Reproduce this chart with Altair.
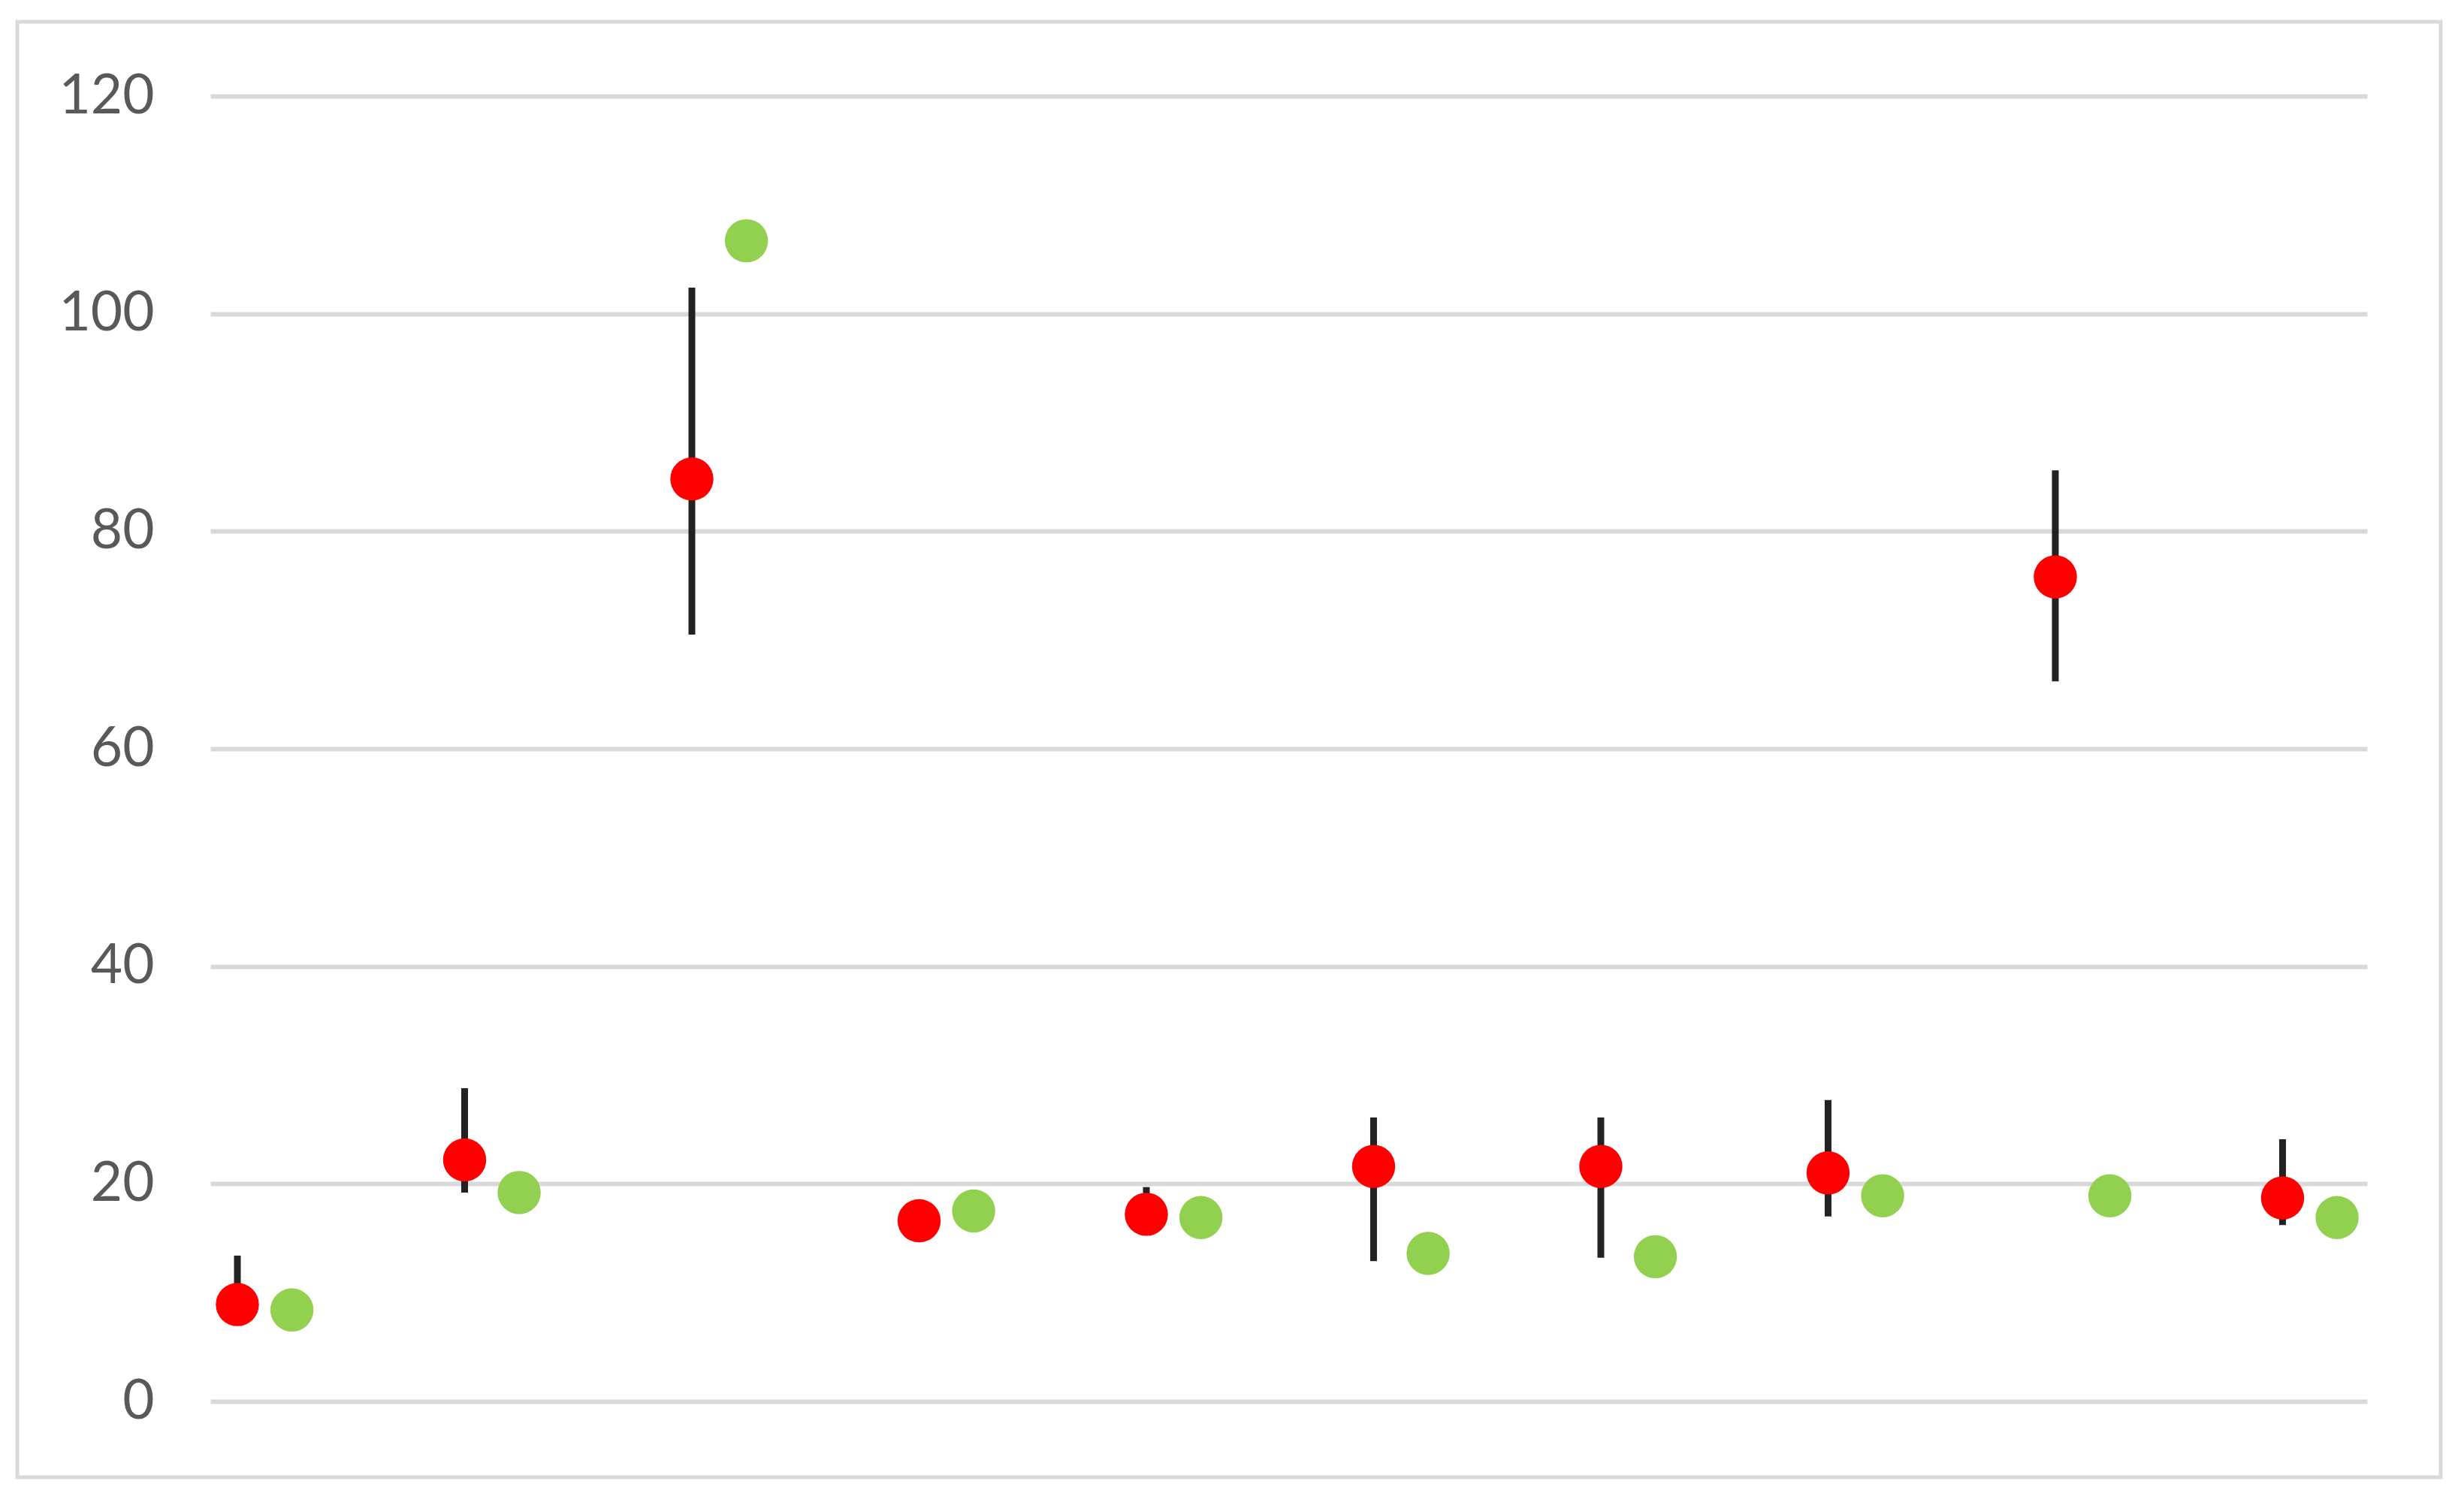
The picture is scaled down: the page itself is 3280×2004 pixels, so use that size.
import altair as alt
import pandas as pd

# category positions (1..10), green series drawn slightly to the right
positions = [1, 2, 3, 4, 5, 6, 7, 8, 9, 10]
green_offset = 0.24

red_values = [8.9, 22.2, 84.8, 16.6, 17.2, 21.6, 21.6, 21.0, 75.8, 18.7]
red_high = [13.4, 28.8, 102.4, 17.4, 19.7, 26.1, 26.1, 27.7, 85.6, 24.1]
red_low = [7.6, 19.2, 70.5, 15.9, 16.0, 12.9, 13.2, 17.0, 66.2, 16.2]
green_values = [8.4, 19.2, 106.7, 17.5, 16.9, 13.6, 13.3, 18.9, 18.9, 16.9]

y_ticks = [0, 20, 40, 60, 80, 100, 120]

red_df = pd.DataFrame({"pos": positions, "value": red_values,
                       "low": red_low, "high": red_high})
green_df = pd.DataFrame({"pos": [p + green_offset for p in positions],
                         "value": green_values})

x_scale = alt.Scale(domain=[0.881, 10.372], nice=False, zero=False)
y_scale = alt.Scale(domain=[0, 120], nice=False)

x_enc = alt.X("pos:Q", scale=x_scale, axis=None)

# outer chart frame (decoration)
frame = alt.Chart(pd.DataFrame({"k": [0]})).mark_rect(
    fill="transparent", stroke="#d9d9d9", strokeWidth=5
).encode(
    x=alt.value(-257), x2=alt.value(2969),
    y=alt.value(-99), y2=alt.value(1839),
)

errors = alt.Chart(red_df).mark_rule(color="#222222", strokeWidth=9).encode(
    x=x_enc,
    y=alt.Y("low:Q", scale=y_scale,
            axis=alt.Axis(values=y_ticks, title=None, domain=False, ticks=False,
                          tickSize=0, labelPadding=75, labelFontSize=73,
                          labelFont="Lato", labelColor="#595959",
                          grid=True, gridColor="#d9d9d9", gridWidth=6)),
    y2="high:Q",
)

red_pts = alt.Chart(red_df).mark_circle(color="#ff0000", opacity=1, size=3300).encode(
    x=x_enc,
    y=alt.Y("value:Q", scale=y_scale),
)

green_pts = alt.Chart(green_df).mark_circle(color="#92d050", opacity=1, size=3300).encode(
    x=x_enc,
    y=alt.Y("value:Q", scale=y_scale),
)

chart = alt.layer(frame, errors, red_pts, green_pts).properties(
    width=2871, height=1738,
    autosize=alt.AutoSizeParams(type="none"),
    padding={"left": 272, "top": 120, "right": 120, "bottom": 120},
    view=alt.ViewBackground(strokeOpacity=0, strokeWidth=0),
).configure_view(strokeOpacity=0, strokeWidth=0).configure(background="white")

chart.save("out.html", embed_options={"renderer": "svg", "actions": False})
